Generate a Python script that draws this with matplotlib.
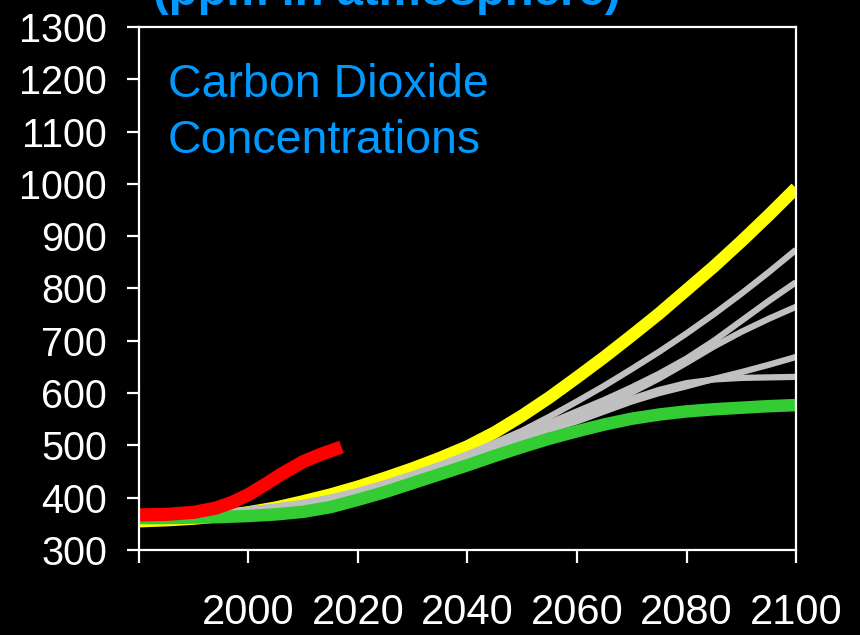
import matplotlib
matplotlib.use("Agg")
import matplotlib.pyplot as plt

plt.rcParams['font.family'] = ['Liberation Sans', 'DejaVu Sans']

# Datos (ppm), leidos cada 5 anos
years = [1980, 1985, 1990, 1995, 2000, 2005, 2010, 2015, 2020, 2025, 2030, 2035, 2040,
         2045, 2050, 2055, 2060, 2065, 2070, 2075, 2080, 2085, 2090, 2095, 2100]

yellow = [355, 357, 360, 365, 372, 381, 393, 406, 421, 438, 456, 476, 498,
          525, 557, 592, 630, 669, 710, 752, 797, 842, 890, 940, 992]
green = [361, 361, 362, 363, 365, 368, 373, 382, 396, 411, 428, 445, 462,
         480, 497, 513, 527, 540, 551, 559, 565, 569, 572, 575, 577]

# Escenarios intermedios (gris), desde 1990
gray_years = years[2:]
gray_a = [366, 370, 377, 383, 390, 400, 413, 428, 445, 463, 483,
          505, 528, 555, 584, 614, 646, 679, 714, 751, 790, 831, 874]
gray_b = [366, 370, 377, 383, 390, 400, 412, 427, 444, 462, 481,
          501, 522, 543, 565, 587, 611, 637, 666, 700, 738, 776, 812]
gray_c = [366, 370, 376, 382, 389, 399, 411, 426, 443, 461, 479,
          499, 518, 537, 557, 578, 601, 628, 658, 689, 717, 742, 765]
gray_d = [366, 370, 376, 382, 388, 398, 410, 425, 441, 458, 476,
          496, 514, 530, 546, 565, 584, 600, 613, 627, 640, 654, 669]
gray_e = [366, 370, 376, 382, 388, 398, 410, 425, 442, 459, 477,
          497, 516, 533, 550, 570, 589, 606, 619, 626, 629, 630, 631]

red_years = [1980, 1985, 1990, 1994, 1997, 2000, 2003, 2006, 2010, 2013, 2017]
red = [367, 368, 372, 380, 391, 406, 425, 445, 469, 482, 497]

xticks = [1980, 2000, 2020, 2040, 2060, 2080, 2100]
xlabels = ["", "2000", "2020", "2040", "2060", "2080", "2100"]
yticks = [300, 400, 500, 600, 700, 800, 900, 1000, 1100, 1200, 1300]

fig = plt.figure(figsize=(8.6, 6.35), dpi=100, facecolor="black")
ax = fig.add_axes([0.1616, 0.1339, 0.764, 0.8236], facecolor="black")

ax.plot(years, yellow, color="#FFFF00", lw=9, solid_capstyle="butt", solid_joinstyle="round")
for g in [gray_a, gray_b, gray_c, gray_d, gray_e]:
    ax.plot(gray_years, g, color="#C0C0C0", lw=4.5, solid_capstyle="butt", solid_joinstyle="round")
ax.plot(years, green, color="#33CC33", lw=9, solid_capstyle="butt", solid_joinstyle="round")
ax.plot(red_years, red, color="#FF0000", lw=9.5, solid_capstyle="butt", solid_joinstyle="round")

ax.set_xlim(1980, 2100)
ax.set_ylim(300, 1300)
ax.set_xticks(xticks)
ax.set_xticklabels(xlabels)
ax.set_yticks(yticks)

for s in ax.spines.values():
    s.set_color("white")
    s.set_linewidth(1.6)

ax.tick_params(axis="y", colors="white", direction="out", length=9, width=1.6, labelsize=28.5, pad=14)
ax.tick_params(axis="x", colors="white", direction="out", length=9, width=1.6, labelsize=30, pad=22)

# Textos
fig.text(0.45, 0.992, "(ppm in atmosphere)", color="#0099FF", fontsize=34,
         fontweight="bold", ha="center", va="baseline")
fig.text(0.195, 1 - 97 / 635, "Carbon Dioxide", color="#0099FF", fontsize=33.5,
         ha="left", va="baseline")
fig.text(0.195, 1 - 153 / 635, "Concentrations", color="#0099FF", fontsize=33.5,
         ha="left", va="baseline")

fig.savefig("out.png", dpi=100, facecolor="black")
